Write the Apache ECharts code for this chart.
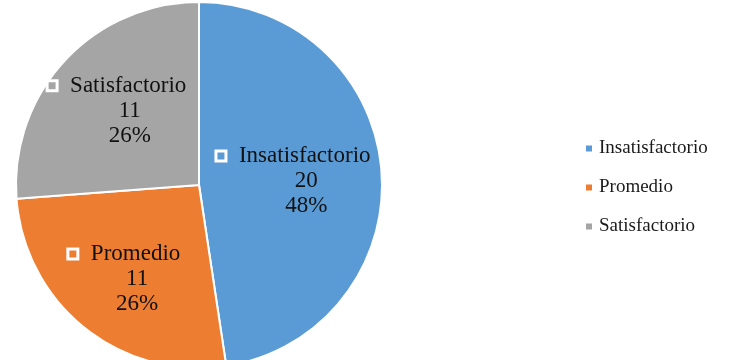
<!DOCTYPE html>
<html><head><meta charset="utf-8">
<script src="https://cdn.jsdelivr.net/npm/echarts@6/dist/echarts.min.js"></script>
<style>html,body{margin:0;padding:0;background:#fff}#c{width:741px;height:360px}</style>
</head><body><div id="c"></div>
<script>
const categories = ['Insatisfactorio', 'Promedio', 'Satisfactorio'];
const values = [20, 11, 11];
const colors = ['#5B9BD5', '#ED7D31', '#A5A5A5'];
const labelShift = [[0, 3], [-16, 20], [-13, -10]];

const chart = echarts.init(document.getElementById('c'), null, {renderer: 'canvas'});
const font = '"Liberation Serif", "Times New Roman", serif';
chart.setOption({
  animation: false,
  color: colors,
  legend: {
    orient: 'vertical', left: 579, top: 134,
    itemWidth: 8, itemHeight: 8, itemGap: 20, icon: 'rect',
    textStyle: {fontFamily: font, fontSize: 19, color: '#1a1a1a', padding: [0, 0, 0, 1]},
    data: categories
  },
  series: [{
    type: 'pie',
    center: [199, 185], radius: 183,
    startAngle: 90, clockwise: true,
    itemStyle: {borderColor: '#fff', borderWidth: 2},
    label: {
      position: 'inside',
      fontFamily: font, fontSize: 23, color: '#111', lineHeight: 25, align: 'center',
      formatter: p => '{sq|}{g|}' + p.name + '\n{sp|}' + p.value + '\n{sp|}' + Math.round(p.percent) + '%',
      rich: {
        sq: {width: 10, height: 10, borderColor: '#fff', borderWidth: 3},
        g: {width: 13},
        sp: {width: 26}
      }
    },
    labelLayout: p => ({dx: labelShift[p.dataIndex][0], dy: labelShift[p.dataIndex][1]}),
    labelLine: {show: false},
    data: categories.map((n, i) => ({name: n, value: values[i]}))
  }]
});
</script></body></html>
